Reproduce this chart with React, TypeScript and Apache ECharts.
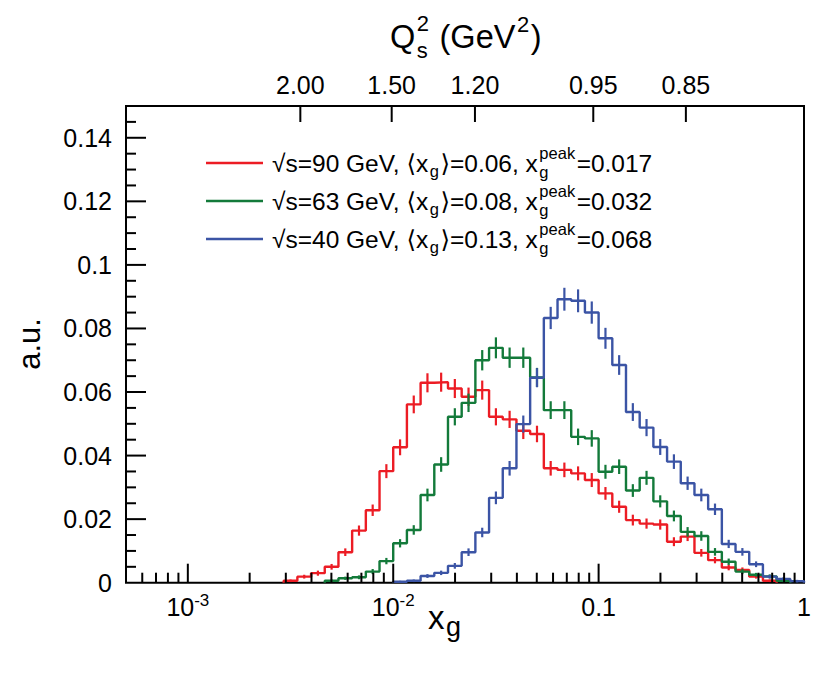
import React, { useEffect, useRef } from 'react';
import * as echarts from 'echarts';

// ---------- data ----------
const X_MIN = 5e-4;
const X_MAX = 1;
const Y_MIN = 0;
const Y_MAX = 0.15;

// histogram binning: 15 bins per decade starting at 1e-4 (log10 edges)
const BIN_LOG_START = -4;
const BINS_PER_DECADE = 15;

const X_MAJOR_TICKS = [1e-3, 1e-2, 0.1, 1];
const X_MAJOR_BASE = ['10', '10', '0.1', '1'];
const X_MAJOR_EXP = ['-3', '-2', '', ''];

const Y_TICKS = [0, 0.02, 0.04, 0.06, 0.08, 0.1, 0.12, 0.14];
const Y_LABELS = ['0', '0.02', '0.04', '0.06', '0.08', '0.1', '0.12', '0.14'];

const Q_TICK_XG = [0.00353, 0.00983, 0.025, 0.0942, 0.266];
const Q_TICK_LABELS = ['2.00', '1.50', '1.20', '0.95', '0.85'];

const LEGEND_SQRT_S = ['90', '63', '40'];
const LEGEND_MEAN_XG = ['0.06', '0.08', '0.13'];
const LEGEND_PEAK_XG = ['0.017', '0.032', '0.068'];

const RED_FIRST_BIN = 22;
const RED_VALUES = [0.0006, 0.0019, 0.003, 0.005, 0.0096, 0.0164, 0.0228, 0.0351, 0.0426, 0.0561, 0.0629, 0.0631, 0.0611, 0.0585, 0.0606, 0.0522, 0.0514, 0.0478, 0.0468, 0.036, 0.0355, 0.0344, 0.0323, 0.0281, 0.0239, 0.0197, 0.0186, 0.0183, 0.0129, 0.0145, 0.0094, 0.0071, 0.0048, 0.004, 0.0019, 0.0006];
const RED_ERRORS = [0.0004, 0.0006, 0.0008, 0.0009, 0.0012, 0.0016, 0.0018, 0.0022, 0.0025, 0.0028, 0.003, 0.003, 0.003, 0.0029, 0.003, 0.0027, 0.0027, 0.0026, 0.0026, 0.0023, 0.0023, 0.0022, 0.0022, 0.002, 0.0019, 0.0017, 0.0016, 0.0016, 0.0014, 0.0014, 0.0012, 0.001, 0.0009, 0.0008, 0.0006, 0.0004];

const GREEN_FIRST_BIN = 25;
const GREEN_VALUES = [0.0006, 0.0014, 0.0017, 0.0035, 0.0068, 0.0124, 0.0166, 0.0276, 0.0372, 0.0522, 0.0566, 0.07, 0.0739, 0.0708, 0.0708, 0.0646, 0.0543, 0.0543, 0.0459, 0.0454, 0.0349, 0.0365, 0.029, 0.033, 0.0256, 0.021, 0.016, 0.0147, 0.0097, 0.0066, 0.0035, 0.0025, 0.002, 0.0006];
const GREEN_ERRORS = [0.0004, 0.0005, 0.0006, 0.0008, 0.001, 0.0013, 0.0015, 0.002, 0.0023, 0.0027, 0.0029, 0.0032, 0.0033, 0.0032, 0.0032, 0.003, 0.0028, 0.0028, 0.0026, 0.0026, 0.0022, 0.0023, 0.002, 0.0022, 0.0019, 0.0017, 0.0015, 0.0015, 0.0012, 0.001, 0.0008, 0.0006, 0.0006, 0.0004];

const BLUE_FIRST_BIN = 30;
const BLUE_VALUES = [0.0003, 0.0006, 0.0021, 0.0031, 0.0053, 0.0096, 0.0158, 0.0267, 0.036, 0.0499, 0.0645, 0.0833, 0.0892, 0.0887, 0.085, 0.0769, 0.0685, 0.0537, 0.0488, 0.0427, 0.0381, 0.0313, 0.0276, 0.0231, 0.0122, 0.0097, 0.0058, 0.0019, 0.0012, 0.0005];
const BLUE_ERRORS = [0.0003, 0.0004, 0.0006, 0.0007, 0.0009, 0.0012, 0.0015, 0.002, 0.0023, 0.0027, 0.003, 0.0035, 0.0036, 0.0036, 0.0035, 0.0033, 0.0031, 0.0028, 0.0027, 0.0025, 0.0023, 0.0021, 0.002, 0.0018, 0.0013, 0.0012, 0.0009, 0.0006, 0.0005, 0.0004];

const SERIES_COLORS = ['#ec1c24', '#137a3a', '#3b54a5'];

// ---------- helpers ----------
const FONT = '"Liberation Sans", "DejaVu Sans", Arial, sans-serif';
const L = (v: number) => Math.log10(v);
const edgeLog = (k: number) => BIN_LOG_START + k / BINS_PER_DECADE;

function stepData(first: number, vals: number[]) {
  const pts: number[][] = [[edgeLog(first), 0]];
  vals.forEach((v, i) => pts.push([edgeLog(first + i), v]));
  const endE = edgeLog(first + vals.length);
  pts.push([endE, vals[vals.length - 1]]);
  pts.push([endE, 0]);
  return pts;
}
function errData(first: number, vals: number[], errs: number[]) {
  return vals.map((v, i) => [(edgeLog(first + i) + edgeLog(first + i + 1)) / 2, v, errs[i]]);
}

let measureCtx: CanvasRenderingContext2D | null = null;
function tw(text: string, size: number) {
  if (!measureCtx) measureCtx = document.createElement('canvas').getContext('2d');
  measureCtx!.font = `${size}px ${FONT}`;
  return measureCtx!.measureText(text).width;
}
function txt(text: string, x: number, y: number, size: number, extra: any = {}) {
  return {
    type: 'text',
    x,
    y,
    silent: true,
    style: {
      text,
      fontSize: size,
      fontFamily: FONT,
      fill: '#000',
      align: 'left',
      textAlign: 'left',
      verticalAlign: 'middle',
      textVerticalAlign: 'middle',
      ...extra,
    },
  };
}
type Seg = { t?: string; size?: number; sup?: string; sub?: string; ss?: number; supDy?: number; subDy?: number };
function run(segs: Seg[], x0: number, yc: number) {
  const els: any[] = [];
  let x = x0;
  for (const s of segs) {
    if (s.t !== undefined) {
      els.push(txt(s.t, x, yc, s.size!));
      x += tw(s.t, s.size!) + 1.5;
    } else {
      let w = 0;
      if (s.sup) {
        els.push(txt(s.sup, x, yc + (s.supDy ?? -10), s.ss!));
        w = Math.max(w, tw(s.sup, s.ss!));
      }
      if (s.sub) {
        els.push(txt(s.sub, x, yc + (s.subDy ?? 9), s.ss!));
        w = Math.max(w, tw(s.sub, s.ss!));
      }
      x += w + 1.5;
    }
  }
  return els;
}

export default function App() {
  const ref = useRef<HTMLDivElement>(null);
  useEffect(() => {
    if (!ref.current) return;
    const chart = echarts.init(ref.current, undefined, { renderer: 'svg' });

    const xMinorTicks: number[] = [];
    for (let d = -4; d < 0; d++) {
      for (let m = 2; m <= 9; m++) {
        const v = m * Math.pow(10, d);
        if (v > X_MIN && v < X_MAX) xMinorTicks.push(L(v));
      }
    }
    const yMinorTicks: number[] = [];
    for (let i = 1; i * 0.005 < Y_MAX - 1e-9; i++) if (i % 4 !== 0) yMinorTicks.push(i * 0.005);

    const xMajorLog = X_MAJOR_TICKS.map(L);
    const qLog = Q_TICK_XG.map(L);
    const findIdx = (arr: number[], v: number) => arr.findIndex((a) => Math.abs(a - v) < 1e-6);

    const datasets = [
      { first: RED_FIRST_BIN, vals: RED_VALUES, errs: RED_ERRORS },
      { first: GREEN_FIRST_BIN, vals: GREEN_VALUES, errs: GREEN_ERRORS },
      { first: BLUE_FIRST_BIN, vals: BLUE_VALUES, errs: BLUE_ERRORS },
    ];
    const series: any[] = [];

    datasets.forEach((d, i) => {
      const color = SERIES_COLORS[i];
      series.push({
        type: 'line',
        xAxisIndex: 0,
        yAxisIndex: 0,
        step: 'end',
        data: stepData(d.first, d.vals),
        showSymbol: false,
        symbol: 'none',
        lineStyle: { color, width: 2.4 },
        z: 3 + i,
      });
      series.push({
        type: 'custom',
        xAxisIndex: 0,
        yAxisIndex: 0,
        data: errData(d.first, d.vals, d.errs),
        encode: { x: 0, y: 1 },
        z: 3 + i,
        renderItem: (params: any, api: any) => {
          const x = api.value(0);
          const v = api.value(1);
          const e = api.value(2);
          const p1 = api.coord([x, v - e]);
          const p2 = api.coord([x, v + e]);
          return {
            type: 'line',
            shape: { x1: p1[0], y1: p1[1], x2: p2[0], y2: p2[1] },
            style: { stroke: color, lineWidth: 2.2 },
          };
        },
      });
    });

    // legend
    const legendEls: any[] = [];
    const legendRows = [163, 201, 239];
    legendRows.forEach((yc, i) => {
      legendEls.push({
        type: 'line',
        silent: true,
        shape: { x1: 206, y1: yc, x2: 263, y2: yc },
        style: { stroke: SERIES_COLORS[i], lineWidth: 2.4 },
      });
      legendEls.push(
        ...run(
          [
            { t: `√s=${LEGEND_SQRT_S[i]} GeV, ⟨x`, size: 24.5 },
            { sub: 'g', ss: 16.5, subDy: 8 },
            { t: `⟩=${LEGEND_MEAN_XG[i]}, x`, size: 24.5 },
            { sup: 'peak', sub: 'g', ss: 16.5, supDy: -10, subDy: 9 },
            { t: `=${LEGEND_PEAK_XG[i]}`, size: 24.5 },
          ],
          272,
          yc,
        ),
      );
    });

    const titleEls: any[] = [
      ...run(
        [
          { t: 'Q', size: 32.5 },
          { sup: '2', sub: 's', ss: 22, supDy: -13.5, subDy: 13 },
          { t: ' (GeV', size: 32.5 },
          { sup: '2', ss: 22, supDy: -13 },
          { t: ')', size: 32.5 },
        ],
        390,
        37,
      ),
      ...run([{ t: 'x', size: 33 }, { sub: 'g', ss: 27, subDy: 10 }], 428, 617),
      {
        type: 'text',
        x: 29,
        y: 344,
        rotation: Math.PI / 2,
        silent: true,
        style: {
          text: 'a.u.',
          fontSize: 31,
          fontFamily: FONT,
          fill: '#000',
          align: 'center',
          textAlign: 'center',
          verticalAlign: 'middle',
          textVerticalAlign: 'middle',
        },
      },
    ];

    const labelBase = { fontFamily: FONT, color: '#000' };

    chart.setOption({
      animation: false,
      backgroundColor: '#fff',
      grid: {
        left: 126,
        top: 106,
        width: 678,
        height: 476.7,
        show: true,
        borderColor: '#000',
        borderWidth: 2,
        containLabel: false,
      },
      xAxis: [
        {
          type: 'value',
          position: 'bottom',
          min: L(X_MIN),
          max: L(X_MAX),
          axisLine: { show: false, onZero: false },
          splitLine: { show: false },
          axisTick: { show: false },
          axisLabel: {
            show: true,
            customValues: xMajorLog,
            margin: 9,
            formatter: (v: number) => {
              const i = findIdx(xMajorLog, v);
              if (i < 0) return '';
              return X_MAJOR_EXP[i] ? `{n|${X_MAJOR_BASE[i]}}{s|${X_MAJOR_EXP[i]}}` : `{n|${X_MAJOR_BASE[i]}}`;
            },
            rich: {
              n: { ...labelBase, fontSize: 25, lineHeight: 30 },
              s: { ...labelBase, fontSize: 17, lineHeight: 17, verticalAlign: 'top' },
            },
          },
        },
        {
          type: 'value',
          position: 'top',
          min: L(X_MIN),
          max: L(X_MAX),
          axisLine: { show: false, onZero: false },
          splitLine: { show: false },
          axisTick: { show: false },
          axisLabel: {
            show: true,
            customValues: qLog,
            margin: 9,
            fontSize: 25,
            fontFamily: FONT,
            color: '#000',
            formatter: (v: number) => {
              const i = findIdx(qLog, v);
              return i < 0 ? '' : Q_TICK_LABELS[i];
            },
          },
        },
      ],
      yAxis: [
        {
          type: 'value',
          position: 'left',
          min: Y_MIN,
          max: Y_MAX,
          axisLine: { show: false, onZero: false },
          splitLine: { show: false },
          axisTick: { show: false },
          axisLabel: {
            show: true,
            customValues: Y_TICKS,
            margin: 14,
            fontSize: 25,
            fontFamily: FONT,
            color: '#000',
            formatter: (v: number) => {
              const i = findIdx(Y_TICKS, v);
              return i < 0 ? '' : Y_LABELS[i];
            },
          },
        },
      ],
      series,
    });

    // tick marks as thin filled rects, placed through the chart's own axis scales
    const tickEls: any[] = [];
    const TW = 2;
    const addTick = (x: number, y: number, dx: number, dy: number) => {
      const p = chart.convertToPixel({ xAxisIndex: 0, yAxisIndex: 0 }, [x, y]) as number[];
      if (!p) return;
      const rx = dx === 0 ? p[0] - TW / 2 : Math.min(p[0], p[0] + dx);
      const ry = dy === 0 ? p[1] - TW / 2 : Math.min(p[1], p[1] + dy);
      const w = dx === 0 ? TW : Math.abs(dx);
      const h = dy === 0 ? TW : Math.abs(dy);
      tickEls.push({
        type: 'rect',
        silent: true,
        z: 50,
        shape: { x: rx, y: ry, width: w, height: h },
        style: { fill: '#000' },
      });
    };
    xMajorLog.filter((v) => v < L(X_MAX) - 1e-9).forEach((v) => addTick(v, Y_MIN, 0, -19));
    xMinorTicks.forEach((v) => addTick(v, Y_MIN, 0, -10));
    Y_TICKS.filter((v) => v > 0).forEach((v) => addTick(L(X_MIN), v, 20, 0));
    yMinorTicks.forEach((v) => addTick(L(X_MIN), v, 10, 0));
    qLog.forEach((v) => addTick(v, Y_MAX, 0, 16));

    chart.setOption({ graphic: [...tickEls, ...legendEls, ...titleEls] });

    return () => chart.dispose();
  }, []);

  return <div ref={ref} style={{ position: 'absolute', left: 0, top: 0, width: 830, height: 678, background: '#fff' }} />;
}
